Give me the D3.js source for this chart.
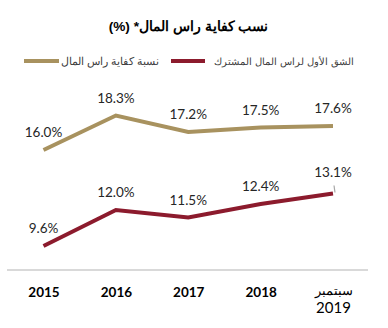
<!DOCTYPE html>
<html><head><meta charset="utf-8">
<script src="https://cdn.jsdelivr.net/npm/d3@7"></script>
<style>body{margin:0;background:#fff}svg{display:block}</style>
</head><body><svg id="c" width="388" height="328"></svg>
<script>
const categories = ["2015","2016","2017","2018","سبتمبر\n2019"];
const totalCAR = [16.0,18.3,17.2,17.5,17.6];
const cet1 = [9.6,12.0,11.5,12.4,13.1];
const seriesNames = ["نسبة كفاية راس المال","الشق الأول لراس المال المشترك"];
const title = "نسب كفاية راس المال* (%)";

const svg = d3.select("#c");
const x = d3.scalePoint().domain(categories).range([43.5,333]);
const y = d3.scaleLinear().domain([8,20]).range([270,90]);
const gold="#A8925F", red="#8C1B2D";
const fontNum = "Lato, 'Open Sans', sans-serif";

function fit(sel, w){
  const len = sel.node().getComputedTextLength();
  const fs = parseFloat(sel.attr("font-size"));
  sel.attr("font-size", fs*w/len);
}

const tt = svg.append("text").attr("x",188.5).attr("y",31).attr("text-anchor","middle")
  .attr("font-family","'Liberation Sans', Arial, sans-serif").attr("font-weight","bold").attr("font-size",15)
  .attr("direction","rtl").text(title);
fit(tt,157);

// legend
const leg = [{name:seriesNames[1],color:red,tx:354,w:147,lx1:171,lx2:205},{name:seriesNames[0],color:gold,tx:159,w:99,lx1:24,lx2:59}];
leg.forEach(d=>{
  svg.append("line").attr("x1",d.lx1).attr("x2",d.lx2).attr("y1",61).attr("y2",61)
    .attr("stroke",d.color).attr("stroke-width",4);
  const t = svg.append("text").attr("x",d.tx).attr("y",65).attr("text-anchor","end")
    .attr("font-family","'Liberation Sans', Arial, sans-serif").attr("font-size",12).attr("fill","#404040")
    .text(d.name);
  fit(t,d.w);
});

// axis
const xAxis = d3.axisBottom(x).tickSize(0).tickFormat(()=> "");
const ax = svg.append("g").attr("transform","translate(0,270)").call(xAxis);
ax.select(".domain").attr("d","M7,0H368").attr("stroke","#d9d9d9").attr("stroke-width",2);
ax.selectAll(".tick").each(function(d){
  const lines = d.split("\n");
  const t = d3.select(this).append("text").attr("fill","#000").attr("text-anchor","middle")
    .attr("font-family",fontNum).attr("font-size",13.5).attr("font-weight","bold");
  if(lines.length===1){
    t.attr("y",27).text(lines[0]);
  } else {
    t.append("tspan").attr("x",0).attr("y",25).attr("font-family","'Liberation Sans', Arial, sans-serif").attr("font-weight","normal").attr("font-size",13).text(lines[0]);
    t.append("tspan").attr("x",0).attr("y",43).attr("font-weight","normal").attr("font-size",15).text(lines[1]);
  }
});

const line = d3.line().x((d,i)=>x(categories[i])).y(d=>y(d));
[[totalCAR,gold],[cet1,red]].forEach(([data,color])=>{
  svg.append("path").datum(data).attr("d",line).attr("fill","none")
    .attr("stroke",color).attr("stroke-width",4).attr("stroke-linejoin","miter");
  svg.selectAll(null).data(data).enter().append("text")
    .attr("x",(d,i)=>x(categories[i])).attr("y",(d,i)=>y(d)-13 - (data===cet1&&i===4?4:0))
    .attr("text-anchor","middle").attr("font-family",fontNum).attr("font-size",13.5).attr("fill","#262626")
    .text(d=>d.toFixed(1)+"%");
});
// leader line for last cet1 label
svg.append("line").attr("x1",x(categories[4])+2).attr("x2",x(categories[4])+1)
  .attr("y1",y(cet1[4])-1).attr("y2",y(cet1[4])-8).attr("stroke","#a6a6a6").attr("stroke-width",1.2);
</script></body></html>
